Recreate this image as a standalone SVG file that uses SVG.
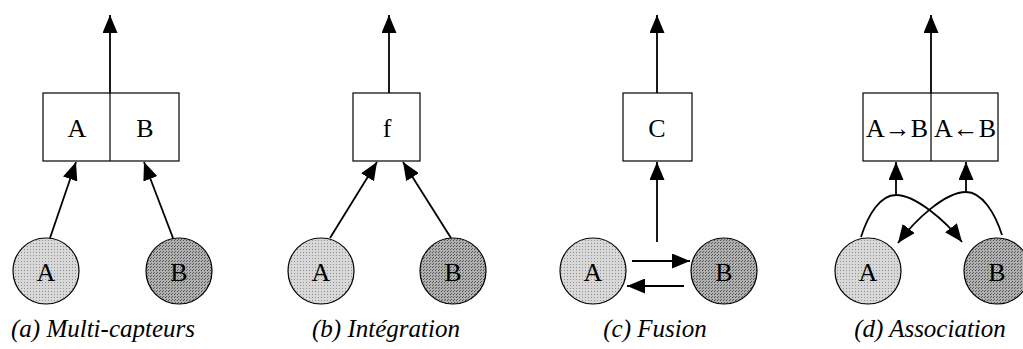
<svg xmlns="http://www.w3.org/2000/svg" width="1023" height="349" viewBox="0 0 1023 349">
<defs>
<marker id="ah" markerUnits="userSpaceOnUse" markerWidth="18" markerHeight="15" refX="18" refY="7.5" orient="auto" viewBox="0 0 18 15">
<path d="M0,0 L18,7.5 L0,15 z" fill="#000"/>
</marker>
<pattern id="dotA" width="3" height="3" patternUnits="userSpaceOnUse">
<rect width="3" height="3" fill="#d8d8d8"/>
<rect x="0" y="0" width="1" height="1" fill="#909090"/>
</pattern>
<pattern id="dotB" width="3" height="3" patternUnits="userSpaceOnUse">
<rect width="3" height="3" fill="#b0b0b0"/>
<rect x="0" y="0" width="1" height="1" fill="#505050"/>
<rect x="1" y="2" width="1" height="1" fill="#606060"/>
</pattern>
<style>
.box{fill:#fff;stroke:#000;stroke-width:1.2}
.div{stroke:#000;stroke-width:1.2}
.ca{fill:url(#dotA);stroke:#000;stroke-width:1.2}
.cb{fill:url(#dotB);stroke:#000;stroke-width:1.2}
.lt{font-family:"Liberation Serif",serif;font-size:26px;text-anchor:middle;fill:#000}
.cap{font-family:"Liberation Serif",serif;font-size:25px;font-style:italic;text-anchor:middle;fill:#000}
.ar{fill:none;stroke:#000;stroke-width:1.8;marker-end:url(#ah)}
</style>
</defs>

<g id="panel-a">
<g id="a-box"><rect class="box" x="43" y="93" width="136" height="68"/><line class="div" x1="110" y1="93" x2="110" y2="161"/>
<text class="lt" x="77" y="137">A</text><text class="lt" x="145" y="137">B</text></g>
<g id="a-A"><circle class="ca" cx="46" cy="271" r="33"/><text class="lt" x="46" y="281">A</text></g>
<g id="a-B"><circle class="cb" cx="179" cy="271" r="33"/><text class="lt" x="179" y="281">B</text></g>
<text class="cap" x="103" y="337">(a) Multi-capteurs</text>
</g>

<g id="panel-b">
<g id="b-box"><rect class="box" x="353" y="93" width="67" height="68"/><text class="lt" x="387" y="137">f</text></g>
<g id="b-A"><circle class="ca" cx="321" cy="271" r="33"/><text class="lt" x="321" y="281">A</text></g>
<g id="b-B"><circle class="cb" cx="453" cy="271" r="33"/><text class="lt" x="453" y="281">B</text></g>
<text class="cap" x="386" y="337">(b) Intégration</text>
</g>

<g id="panel-c">
<g id="c-box"><rect class="box" x="623" y="93" width="69" height="68"/><text class="lt" x="657" y="137">C</text></g>
<g id="c-A"><circle class="ca" cx="593" cy="271" r="33"/><text class="lt" x="593" y="281">A</text></g>
<g id="c-B"><circle class="cb" cx="724" cy="271" r="33"/><text class="lt" x="724" y="281">B</text></g>
<text class="cap" x="655" y="337">(c) Fusion</text>
</g>

<g id="panel-d">
<g id="d-box"><rect class="box" x="863" y="93" width="135" height="68"/><line class="div" x1="931" y1="93" x2="931" y2="161"/>
<text class="lt" x="897" y="137">A→B</text><text class="lt" x="965" y="137">A←B</text></g>
<g id="d-A"><circle class="ca" cx="868" cy="271" r="33"/><text class="lt" x="868" y="281">A</text></g>
<g id="d-B"><circle class="cb" cx="997" cy="271" r="33"/><text class="lt" x="997" y="281">B</text></g>
<text class="cap" x="930" y="337">(d) Association</text>
</g>

<g id="connectors">
<line class="ar" x1="110" y1="93" x2="110" y2="15"/>
<line class="ar" x1="50" y1="238" x2="76" y2="162"/>
<line class="ar" x1="173" y1="238" x2="144" y2="162"/>

<line class="ar" x1="389" y1="93" x2="389" y2="15"/>
<line class="ar" x1="330" y1="238" x2="377" y2="162"/>
<line class="ar" x1="451" y1="238" x2="403" y2="162"/>

<line class="ar" x1="657" y1="93" x2="657" y2="15"/>
<line class="ar" x1="657" y1="242" x2="657" y2="162"/>
<line class="ar" x1="632" y1="261" x2="690" y2="261"/>
<line class="ar" x1="684" y1="286" x2="627" y2="286"/>

<line class="ar" x1="931" y1="93" x2="931" y2="15"/>
<path class="ar" d="M861,237 C868,215 880,195 896,195 C915,195 945,220 962,242"/>
<path class="ar" d="M1002,235 C995,213 982,192 966,192 C945,192 915,220 898,243"/>
<line class="ar" x1="896" y1="195" x2="896" y2="162"/>
<line class="ar" x1="966" y1="192" x2="966" y2="162"/>
</g>
</svg>
